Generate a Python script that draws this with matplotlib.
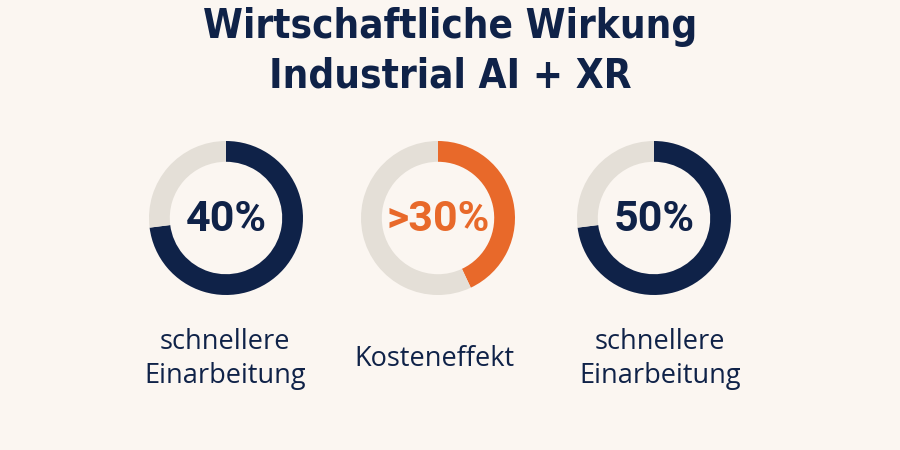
import matplotlib
matplotlib.use('Agg')
import matplotlib.pyplot as plt

title = 'Wirtschaftliche Wirkung\nIndustrial AI + XR'
labels = ['40%', '>30%', '50%']
captions = ['schnellere\nEinarbeitung', 'Kosteneffekt', 'schnellere\nEinarbeitung']
# filled share of each ring as drawn in the picture
fills = [0.73, 0.43, 0.73]

navy = '#0f2248'
orange = '#e8692a'
grey = '#e4dfd7'
bg = '#fbf6f1'
colors = [navy, orange, navy]

fig = plt.figure(figsize=(9, 4.5), dpi=100)
fig.patch.set_facecolor(bg)

fig.text(0.5, 0.985, title, ha='center', va='top', fontsize=29, fontweight='bold',
         color=navy, family='DejaVu Sans', fontstretch='condensed', linespacing=1.3)

centers_x = [226, 438, 654]
caption_x = [225, 434, 660]
cy = 218
r = 77
for i in range(3):
    ax = fig.add_axes([(centers_x[i] - r) / 900, 1 - (cy + r) / 450, 2 * r / 900, 2 * r / 450])
    ax.pie([fills[i], 1 - fills[i]], colors=[colors[i], grey], startangle=90,
           counterclock=False, radius=1, wedgeprops=dict(width=0.27, linewidth=0))
    ax.set_xlim(-1, 1)
    ax.set_ylim(-1, 1)
    ax.set_aspect('equal')
    ax.axis('off')
    ax.text(0, -0.02, labels[i], ha='center', va='center', fontsize=31, fontweight='bold',
            color=colors[i], family='Roboto')
    fig.text(caption_x[i] / 900, 1 - 359 / 450, captions[i], ha='center', va='center',
             fontsize=19.5, color=navy, family='Open Sans', linespacing=1.25)

fig.savefig('out.png', dpi=100, facecolor=bg)
